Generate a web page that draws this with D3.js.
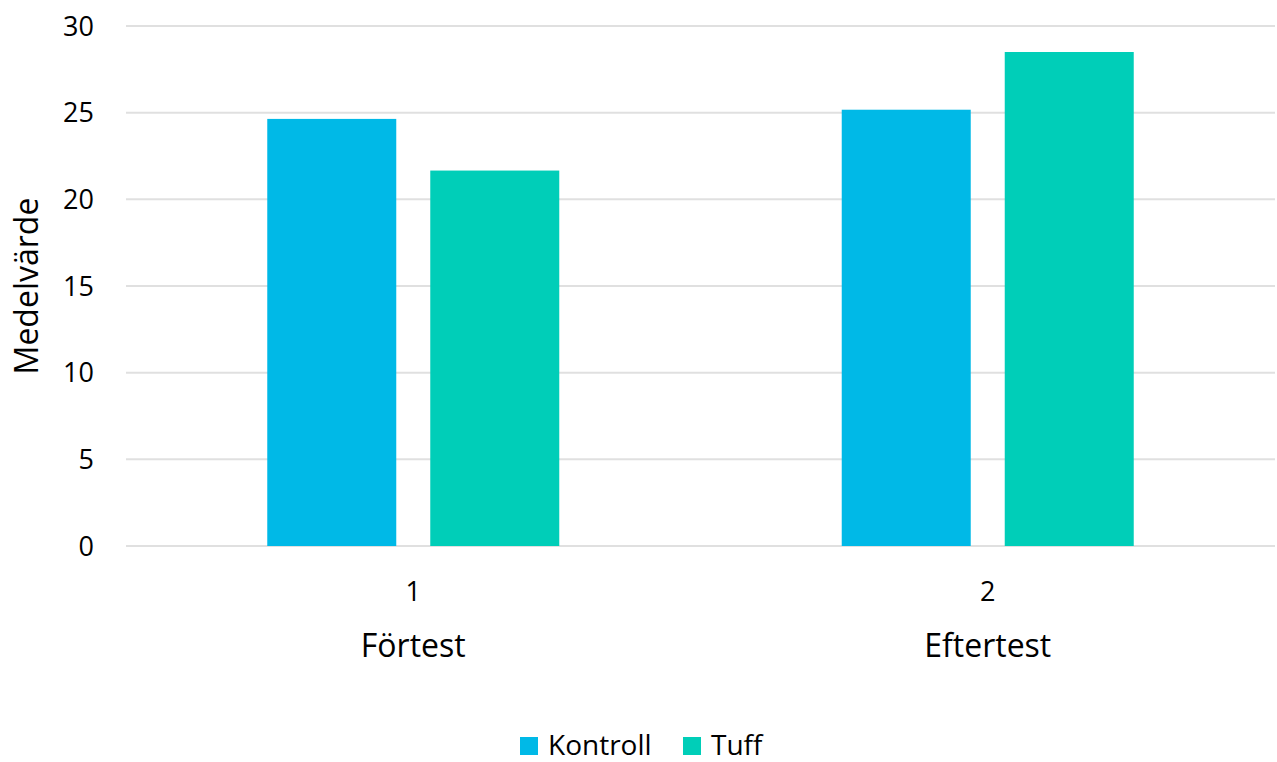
<!DOCTYPE html>
<html>
<head>
<meta charset="utf-8">
<script src="https://cdn.jsdelivr.net/npm/d3@7"></script>
<style>
  body { margin: 0; background: #fff; }
  text { font-family: "Open Sans", sans-serif; fill: #000; }
</style>
</head>
<body>
<div id="chart"></div>
<script>
// data
const groups = ['Förtest', 'Eftertest'];
const groupNumbers = ['1', '2'];
const series = ['Kontroll', 'Tuff'];
const kontroll = [24.64, 25.17];
const tuff = [21.66, 28.5];
const yTicks = [0, 5, 10, 15, 20, 25, 30];

const colors = { Kontroll: '#00B9E7', Tuff: '#00CEB8' };

const width = 1277, height = 762;
const margin = { top: 26, left: 126, right: 2, bottom: 216 };

const svg = d3.select('#chart').append('svg')
    .attr('width', width)
    .attr('height', height);

const rows = groups.map((g, i) => ({ group: g, num: groupNumbers[i], Kontroll: kontroll[i], Tuff: tuff[i] }));

const x0 = d3.scaleBand()
    .domain(groups)
    .range([margin.left, width - margin.right])
    .paddingInner(0.4917)
    .paddingOuter(0.2459);

const x1 = d3.scaleBand()
    .domain(series)
    .range([0, x0.bandwidth()])
    .paddingInner(0.2086);

const y = d3.scaleLinear()
    .domain([0, 30])
    .range([height - margin.bottom, margin.top]);

// gridlines
svg.append('g')
    .selectAll('line')
    .data(yTicks)
    .enter()
    .append('line')
    .attr('x1', margin.left)
    .attr('x2', width - margin.right)
    .attr('y1', d => y(d))
    .attr('y2', d => y(d))
    .attr('stroke', '#e0e0e0')
    .attr('stroke-width', 2);

// y tick labels
svg.append('g')
    .selectAll('text')
    .data(yTicks)
    .enter()
    .append('text')
    .attr('x', 94)
    .attr('y', d => y(d))
    .attr('dy', '0.36em')
    .attr('text-anchor', 'end')
    .style('font-size', '27px')
    .text(d => d);

// bars
svg.append('g')
    .selectAll('g')
    .data(rows)
    .enter()
    .append('g')
    .attr('transform', d => 'translate(' + x0(d.group) + ',0)')
    .selectAll('rect')
    .data(d => series.map(s => ({ key: s, value: d[s] })))
    .enter()
    .append('rect')
    .attr('x', d => x1(d.key))
    .attr('y', d => y(d.value))
    .attr('width', x1.bandwidth())
    .attr('height', d => y(0) - y(d.value))
    .attr('fill', d => colors[d.key]);

// x labels: number and group name
const xl = svg.append('g')
    .selectAll('g')
    .data(rows)
    .enter()
    .append('g')
    .attr('transform', d => 'translate(' + (x0(d.group) + x0.bandwidth() / 2) + ',0)');

xl.append('text')
    .attr('y', 601)
    .attr('text-anchor', 'middle')
    .style('font-size', '27px')
    .text(d => d.num);

xl.append('text')
    .attr('y', 657)
    .attr('text-anchor', 'middle')
    .style('font-size', '32px')
    .text(d => d.group);

// y axis title
svg.append('text')
    .attr('transform', 'translate(38,' + ((y(0) + y(30)) / 2) + ') rotate(-90)')
    .attr('text-anchor', 'middle')
    .style('font-size', '32px')
    .text('Medelvärde');

// legend
const legendPos = [520, 683];
const legend = svg.append('g')
    .selectAll('g')
    .data(series)
    .enter()
    .append('g')
    .attr('transform', (d, i) => 'translate(' + legendPos[i] + ',737)');

legend.append('rect')
    .attr('width', 18)
    .attr('height', 18)
    .attr('fill', d => colors[d]);

legend.append('text')
    .attr('x', 28)
    .attr('y', 18)
    .style('font-size', '28px')
    .text(d => d);
</script>
</body>
</html>
